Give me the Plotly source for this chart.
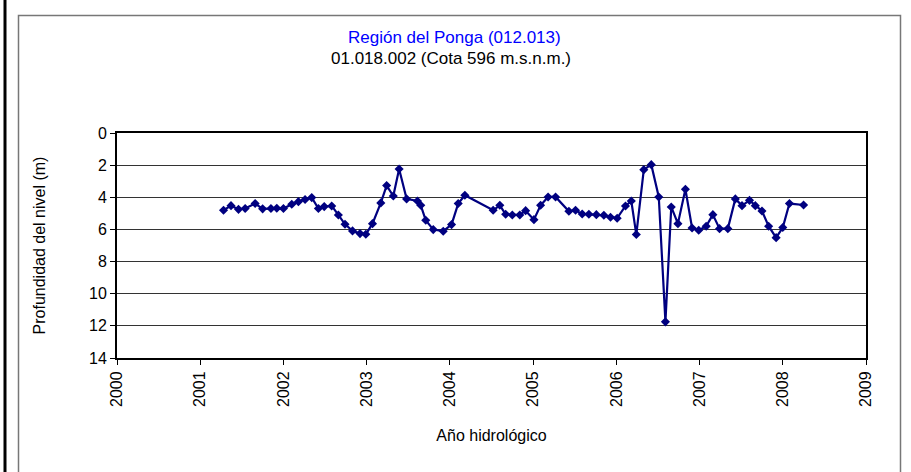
import plotly.graph_objects as go

W, H = 911, 472
L, R, T, B = 117, 866, 133, 358

years = [2001.28, 2001.37, 2001.46, 2001.54, 2001.66, 2001.75, 2001.85, 2001.92, 2002.00,
         2002.10, 2002.18, 2002.26, 2002.34, 2002.42, 2002.49, 2002.58, 2002.66, 2002.74,
         2002.83, 2002.92, 2002.99, 2003.07, 2003.17, 2003.24, 2003.32, 2003.39, 2003.48,
         2003.61, 2003.65, 2003.71, 2003.80, 2003.92, 2004.02, 2004.10, 2004.18, 2004.52,
         2004.60, 2004.67, 2004.75, 2004.84, 2004.91, 2005.01, 2005.09, 2005.18, 2005.27,
         2005.43, 2005.51, 2005.59, 2005.67, 2005.76, 2005.85, 2005.93, 2006.01, 2006.11,
         2006.18, 2006.24, 2006.33, 2006.42, 2006.51, 2006.59, 2006.66, 2006.74, 2006.83,
         2006.91, 2006.99, 2007.08, 2007.16, 2007.24, 2007.34, 2007.43, 2007.51, 2007.60,
         2007.67, 2007.75, 2007.83, 2007.92, 2008.00, 2008.08, 2008.25]
depth = [4.81, 4.52, 4.75, 4.70, 4.39, 4.72, 4.70, 4.68, 4.70,
         4.43, 4.27, 4.14, 4.02, 4.70, 4.58, 4.54, 5.10, 5.68,
         6.09, 6.26, 6.30, 5.64, 4.35, 3.27, 3.92, 2.24, 4.10,
         4.23, 4.50, 5.43, 6.01, 6.11, 5.70, 4.39, 3.87, 4.81,
         4.50, 5.06, 5.10, 5.10, 4.83, 5.39, 4.50, 3.98, 3.98,
         4.87, 4.81, 5.04, 5.06, 5.08, 5.12, 5.24, 5.30, 4.54,
         4.23, 6.32, 2.28, 1.97, 3.98, 11.75, 4.60, 5.64, 3.50,
         5.91, 6.05, 5.80, 5.08, 5.95, 5.95, 4.10, 4.52, 4.19,
         4.52, 4.85, 5.80, 6.51, 5.88, 4.39, 4.48]

x_ticks = list(range(2000, 2010))
y_ticks = list(range(0, 15, 2))

fig = go.Figure()
fig.add_trace(go.Scatter(
    x=years, y=depth, mode="lines+markers",
    line=dict(color="#000080", width=2.2),
    marker=dict(symbol="diamond", size=7, color="#000080"),
    showlegend=False, hoverinfo="skip"))

def px(xp):
    return (xp - L) / (R - L)

def py(yp):
    return (B - yp) / (B - T)

fig.update_layout(
    width=W, height=H,
    margin=dict(l=L, r=W - R, t=T, b=H - B),
    paper_bgcolor="white", plot_bgcolor="white",
    font=dict(family="Liberation Sans, Arial, sans-serif", size=16, color="black"),
    xaxis=dict(range=[2000, 2009], tickvals=x_ticks, ticktext=[str(v) for v in x_ticks],
               tickangle=-90, ticks="outside", ticklen=5, tickcolor="black",
               showline=True, linecolor="black", linewidth=2, mirror=True,
               showgrid=False, zeroline=False,
               title=dict(text="Año hidrológico", font=dict(size=16), standoff=24)),
    yaxis=dict(range=[14, 0], tickvals=y_ticks, ticks="outside", ticklen=5, tickcolor="black",
               showline=True, linecolor="black", linewidth=2, mirror=True,
               showgrid=True, gridcolor="#333333", gridwidth=1, zeroline=False,
               title=dict(text="Profundidad del nivel (m)", font=dict(size=16), standoff=39)),
)

fig.add_annotation(text="Región del Ponga (012.013)", xref="paper", yref="paper",
                   x=px(454), y=py(37.5), showarrow=False, yanchor="middle",
                   font=dict(color="#0000ff", size=17))
fig.add_annotation(text="01.018.002 (Cota 596 m.s.n.m.)", xref="paper", yref="paper",
                   x=px(451), y=py(58), showarrow=False, yanchor="middle",
                   font=dict(color="black", size=17))

# outer frames
fig.add_shape(type="line", xref="paper", yref="paper",
              x0=px(5), x1=px(5), y0=py(0), y1=py(H),
              line=dict(color="black", width=3))
fig.add_shape(type="path", xref="paper", yref="paper",
              path="M {} {} L {} {} L {} {} L {} {}".format(
                  px(18.5), py(H + 5), px(18.5), py(15.5),
                  px(900.5), py(15.5), px(900.5), py(H + 5)),
              line=dict(color="#777777", width=1.5))

fig.write_html("out.html", config={"displayModeBar": False},
               post_script="document.body.style.margin='0';")
